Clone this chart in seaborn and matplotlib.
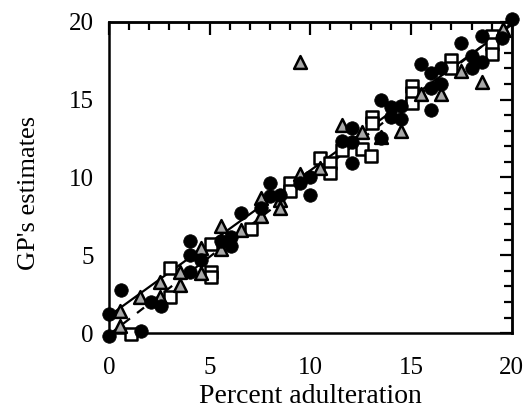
import matplotlib
matplotlib.use("Agg")
import matplotlib.pyplot as plt
import seaborn as sns
import numpy as np
from matplotlib.ticker import MultipleLocator

# ---- data ----
circle_x = [0, 0, 0.6, 1.6, 2.1, 2.6, 4.05, 4.05, 4.55, 4.05, 5.55, 6.05, 6.05, 6.55, 7.55,
            8.0, 8.0, 8.5, 9.5, 10.0, 10.0, 11.55, 12.05, 12.05, 12.05, 13.5, 13.5, 14.0,
            14.5, 14.0, 14.5, 15.5, 16.0, 16.0, 16.0, 16.5, 16.5, 17.5, 18.0, 18.0, 18.5,
            18.5, 19.5, 20.0]
circle_y = [-0.2, 1.25, 2.75, 0.15, 2.0, 1.75, 3.9, 5.05, 4.7, 5.9, 5.95, 6.15, 5.6, 7.7, 8.05,
            9.65, 8.8, 8.9, 9.65, 10.0, 8.9, 12.35, 12.25, 13.2, 10.95, 12.55, 15.0, 14.5,
            14.6, 13.85, 13.75, 17.3, 16.7, 15.75, 14.3, 17.05, 16.0, 18.65, 17.8, 17.0, 17.4,
            19.1, 18.95, 20.2]

square_x = [1.1, 3.05, 3.05, 5.05, 5.05, 5.05, 7.05, 9.0, 9.0, 10.5, 11.0, 11.0, 11.55, 12.55,
            13.0, 13.05, 13.05, 15.05, 15.05, 15.05, 17.0, 17.0, 19.0, 19.0, 19.0]
square_y = [-0.05, 2.3, 4.2, 3.9, 3.6, 5.75, 6.7, 9.65, 9.1, 11.25, 10.95, 10.3, 11.75, 11.8,
            11.35, 13.9, 13.5, 15.9, 15.45, 14.8, 17.55, 17.0, 19.1, 18.55, 17.95]

triangle_x = [0.55, 0.55, 1.55, 2.55, 2.55, 3.55, 3.55, 4.55, 4.55, 5.55, 5.55, 6.55, 7.55, 7.55,
              8.5, 8.5, 9.5, 9.5, 10.5, 11.55, 12.55, 13.5, 14.5, 15.5, 16.5, 17.5, 18.5, 19.55]
triangle_y = [1.45, 0.45, 2.3, 2.3, 3.3, 3.95, 3.1, 3.85, 5.45, 5.4, 6.85, 6.6, 8.7, 7.5,
              8.55, 8.05, 10.2, 17.4, 10.6, 13.35, 12.9, 12.6, 13.0, 15.35, 15.35, 16.85, 16.1, 19.55]

line_x = [0, 20]
solid_y = [1.1, 19.8]
dashed_y = [-0.1, 19.9]

xticks = [0, 5, 10, 15, 20]
yticks = [0, 5, 10, 15, 20]

# ---- figure ----
sns.set_theme(style="white")
plt.rcParams['font.family'] = ['Liberation Serif', 'DejaVu Serif']

fig = plt.figure(figsize=(5.26, 4.16), dpi=100)
ax = fig.add_axes([0.207, 0.199, 0.766, 0.749])

sns.lineplot(x=line_x, y=solid_y, ax=ax, color='black', linewidth=1.6, zorder=2)
sns.lineplot(x=line_x, y=dashed_y, ax=ax, color='black', linewidth=1.6, zorder=2,
             linestyle=(0, (4, 4)))

kw = dict(ax=ax, clip_on=False, zorder=4, legend=False)
sns.scatterplot(x=square_x, y=square_y, marker='s', s=70, facecolor='white',
                edgecolor='black', linewidth=1.8, **kw)
sns.scatterplot(x=triangle_x, y=triangle_y, marker='^', s=85, facecolor='#a8a8a8',
                edgecolor='black', linewidth=1.8, **kw)
sns.scatterplot(x=circle_x, y=circle_y, marker='o', s=95, facecolor='black',
                edgecolor='black', linewidth=0.5, **kw)

ax.set_xlim(0, 20)
ax.set_ylim(0, 20)
ax.set_xticks(xticks)
ax.set_yticks(yticks)
ax.xaxis.set_minor_locator(MultipleLocator(1))
ax.yaxis.set_minor_locator(MultipleLocator(1))

for sp in ax.spines.values():
    sp.set_linewidth(1.8)
    sp.set_color('black')
    sp.set_visible(True)

ax.tick_params(axis='both', which='major', direction='out', length=9, width=1.6,
               color='black', labelsize=18, labelcolor='black')
ax.tick_params(axis='both', which='minor', direction='out', length=6, width=1.6, color='black')
ax.tick_params(axis='x', which='major', pad=8)
ax.tick_params(axis='y', which='major', pad=2)

top = ax.secondary_xaxis('top')
top.set_xticks(xticks)
top.xaxis.set_minor_locator(MultipleLocator(1))
top.tick_params(which='major', direction='in', length=9, width=1.6, color='black', labeltop=False)
top.tick_params(which='minor', direction='in', length=6, width=1.6, color='black')
top.spines['top'].set_linewidth(1.8)

right = ax.secondary_yaxis('right')
right.set_yticks(yticks)
right.yaxis.set_minor_locator(MultipleLocator(1))
right.tick_params(which='major', direction='in', length=9, width=1.6, color='black', labelright=False)
right.tick_params(which='minor', direction='in', length=6, width=1.6, color='black')
right.spines['right'].set_linewidth(1.8)

ax.set_xlabel('Percent adulteration', fontsize=20, color='black')
ax.set_ylabel("GP's estimates", fontsize=19, color='black')
ax.xaxis.set_label_coords(0.5, -0.162)
ax.yaxis.set_label_coords(-0.172, 0.45)

fig.savefig('out.png', dpi=100, facecolor='white')
